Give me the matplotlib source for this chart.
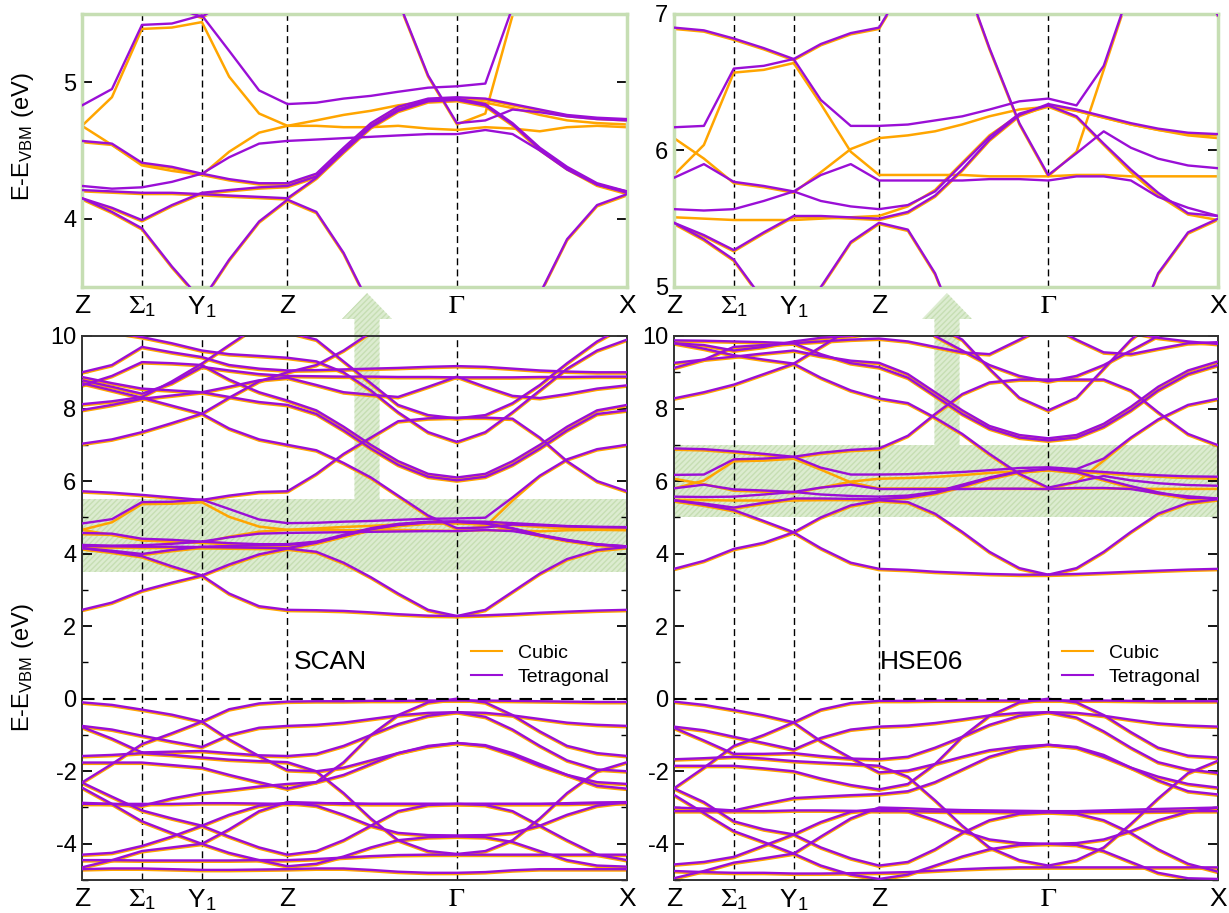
import matplotlib
matplotlib.use("Agg")
import matplotlib.pyplot as plt
from matplotlib.patches import FancyArrow
from matplotlib.ticker import MultipleLocator
from matplotlib.transforms import offset_copy

plt.rcParams['font.family'] = ['Liberation Sans', 'DejaVu Sans']
plt.rcParams['mathtext.fontset'] = 'stix'
plt.rcParams['axes.unicode_minus'] = False

# k-path nodes (Z - Sigma1 - Y1 - Z - Gamma - X)
kpath = [0.0, 0.055, 0.11, 0.165, 0.22, 0.27, 0.325, 0.377, 0.43, 0.48,
         0.53, 0.58, 0.635, 0.688, 0.74, 0.79, 0.84, 0.89, 0.945, 1.0]
kticks = [0.0, 0.11, 0.22, 0.377, 0.688, 1.0]
klabels = ['Z', r'$\Sigma_\mathregular{1}$', r'Y$_\mathregular{1}$', 'Z', r'$\Gamma$', 'X']

# ---------------- SCAN bands (eV) ----------------
sv_A = [-0.10, -0.17, -0.30, -0.44, -0.63, -1.12, -1.58, -1.97, -2.00, -1.90, -1.70, -1.50, -1.32, -1.22, -1.30, -1.55, -1.85, -2.10, -2.30, -2.35]
sv_B = [-2.31, -1.80, -1.25, -0.95, -0.63, -0.29, -0.13, -0.08, -0.07, -0.07, -0.06, -0.06, -0.05, -0.05, -0.05, -0.06, -0.07, -0.08, -0.09, -0.09]
sv_b = [-0.75, -0.85, -1.02, -1.18, -1.33, -1.00, -0.80, -0.75, -0.72, -0.66, -0.56, -0.46, -0.39, -0.37, -0.39, -0.46, -0.56, -0.66, -0.72, -0.75]
sv_c = [-0.78, -1.10, -1.48, -1.46, -1.44, -1.50, -1.56, -1.58, -1.52, -1.30, -1.00, -0.70, -0.47, -0.37, -0.50, -0.85, -1.30, -1.70, -1.95, -2.00]
sv_D = [-1.58, -1.55, -1.50, -1.55, -1.62, -1.68, -1.72, -1.75, -2.00, -2.60, -3.30, -3.90, -4.20, -4.28, -4.20, -3.90, -3.30, -2.60, -2.00, -1.75]
sv_C = [-1.76, -1.76, -1.76, -1.83, -1.90, -2.10, -2.30, -2.48, -2.30, -1.75, -1.00, -0.45, -0.10, 0.00, -0.10, -0.45, -0.90, -1.30, -1.50, -1.58]
sv_F = [-2.87, -2.90, -2.95, -2.75, -2.60, -2.52, -2.42, -2.35, -2.30, -2.10, -1.80, -1.50, -1.30, -1.22, -1.28, -1.50, -1.80, -2.10, -2.40, -2.48]
sv_bowl = [-4.30, -4.25, -4.06, -3.80, -3.50, -3.20, -2.95, -2.87, -2.95, -3.20, -3.50, -3.70, -3.76, -3.77, -3.76, -3.70, -3.50, -3.20, -2.95, -2.85]
sv_flat = [-2.90, -2.90, -2.90, -2.90, -2.88, -2.88, -2.89, -2.90, -2.88, -2.88, -2.90, -2.90, -2.90, -2.90, -2.90, -2.90, -2.90, -2.90, -2.88, -2.88]
sv_dome = [-2.31, -2.70, -3.08, -3.30, -3.50, -3.80, -4.10, -4.30, -4.20, -3.90, -3.50, -3.10, -2.93, -2.90, -2.93, -3.10, -3.50, -3.90, -4.30, -4.45]
sv_e = [-4.65, -4.45, -4.20, -4.10, -4.00, -3.60, -3.10, -2.85, -2.87, -2.90, -2.90, -2.90, -2.90, -2.90, -2.90, -2.90, -2.90, -2.88, -2.86, -2.85]
sv_g = [-4.45, -4.45, -4.46, -4.46, -4.46, -4.46, -4.45, -4.45, -4.42, -4.38, -4.34, -4.31, -4.30, -4.30, -4.30, -4.30, -4.30, -4.30, -4.30, -4.30]
sv_dome2 = [-2.45, -2.90, -3.38, -3.70, -4.00, -4.25, -4.45, -4.62, -4.55, -4.35, -4.10, -3.90, -3.82, -3.80, -3.82, -3.95, -4.20, -4.45, -4.60, -4.63]
sv_bot = [-4.70, -4.68, -4.68, -4.70, -4.72, -4.72, -4.71, -4.70, -4.68, -4.68, -4.72, -4.77, -4.80, -4.80, -4.78, -4.73, -4.70, -4.70, -4.70, -4.70]

sc_c0 = [4.15, 4.05, 3.93, 3.65, 3.40, 2.90, 2.55, 2.45, 2.44, 2.42, 2.38, 2.33, 2.29, 2.28, 2.30, 2.33, 2.37, 2.40, 2.43, 2.45]
sc_c1 = [2.45, 2.65, 2.98, 3.20, 3.40, 3.70, 3.98, 4.14, 4.05, 3.75, 3.35, 2.90, 2.45, 2.28, 2.45, 2.95, 3.45, 3.85, 4.10, 4.18]
sc_T1 = [4.83, 4.95, 5.42, 5.43, 5.49, 5.23, 4.94, 4.84, 4.85, 4.88, 4.90, 4.93, 4.96, 4.97, 4.99, 5.55, 6.15, 6.60, 6.88, 7.00]
sc_T2 = [4.57, 4.55, 4.41, 4.38, 4.33, 4.29, 4.26, 4.26, 4.33, 4.52, 4.70, 4.82, 4.88, 4.89, 4.88, 4.84, 4.80, 4.76, 4.74, 4.73]
sc_T3 = [4.24, 4.22, 4.23, 4.27, 4.33, 4.45, 4.55, 4.57, 4.58, 4.59, 4.60, 4.61, 4.62, 4.62, 4.65, 4.62, 4.50, 4.36, 4.25, 4.20]
sc_T4 = [4.15, 4.08, 3.99, 4.10, 4.19, 4.21, 4.23, 4.24, 4.31, 4.50, 4.68, 4.80, 4.87, 4.88, 4.84, 4.70, 4.52, 4.38, 4.26, 4.20]
sc_T5 = [4.21, 4.20, 4.19, 4.19, 4.18, 4.17, 4.16, 4.15, 4.30, 4.49, 4.67, 4.79, 4.86, 4.87, 4.83, 4.69, 4.51, 4.37, 4.25, 4.19]
sc_E = [8.70, 8.50, 8.30, 8.08, 7.86, 7.45, 7.15, 7.00, 6.85, 6.50, 6.10, 5.60, 5.05, 4.70, 4.72, 4.80, 4.78, 4.75, 4.73, 4.72]
sc_P = [5.72, 5.68, 5.62, 5.55, 5.48, 5.60, 5.70, 5.72, 6.20, 6.75, 7.20, 7.65, 7.73, 7.75, 7.75, 7.72, 7.20, 6.55, 6.00, 5.72]
sc_F = [7.03, 7.15, 7.35, 7.60, 7.86, 8.30, 8.75, 9.00, 9.20, 9.60, 10.1, 10.6, 11.0, 11.2, 11.0, 10.7, 10.4, 10.2, 10.1, 10.05]
sc_B4 = [7.96, 8.10, 8.27, 8.36, 8.45, 8.32, 8.18, 8.10, 7.85, 7.40, 6.90, 6.45, 6.12, 6.02, 6.12, 6.45, 6.90, 7.40, 7.85, 7.95]
sc_B3 = [8.64, 8.90, 9.28, 9.25, 9.20, 8.80, 8.45, 8.22, 7.95, 7.50, 7.00, 6.55, 6.20, 6.10, 6.20, 6.55, 7.00, 7.50, 7.95, 8.10]
sc_H = [8.87, 8.70, 8.55, 8.50, 8.45, 8.60, 8.78, 8.85, 8.65, 8.45, 8.38, 8.32, 8.60, 8.88, 8.60, 8.35, 8.29, 8.40, 8.55, 8.64]
sc_G = [8.78, 8.60, 8.41, 8.70, 9.15, 9.05, 8.95, 8.90, 8.89, 8.88, 8.88, 8.87, 8.87, 8.86, 8.86, 8.86, 8.87, 8.87, 8.88, 8.88]
sc_G2 = [9.00, 9.20, 9.70, 9.55, 9.42, 9.20, 9.10, 9.05, 9.06, 9.08, 9.10, 9.12, 9.15, 9.17, 9.15, 9.10, 9.05, 9.02, 9.00, 9.00]
sc_B2 = [10.2, 10.1, 9.97, 9.80, 9.60, 9.50, 9.45, 9.40, 9.30, 9.00, 8.50, 7.90, 7.35, 7.08, 7.35, 7.90, 8.50, 9.10, 9.60, 9.90]
sc_B1 = [10.6, 10.5, 10.4, 10.3, 10.25, 10.2, 10.15, 10.1, 9.90, 9.30, 8.70, 8.10, 7.82, 7.73, 7.82, 8.15, 8.65, 9.25, 9.85, 10.3]
sc_K1 = [8.12, 8.20, 8.32, 8.75, 9.24, 9.75, 10.3, 10.8, 11.0, 11.2, 11.4, 11.5, 11.6, 11.6, 11.6, 11.5, 11.4, 11.2, 11.0, 10.9]
# cubic bands that differ from the tetragonal ones
sc_O1 = [4.69, 4.90, 5.40, 5.41, 5.45, 5.05, 4.78, 4.69, 4.73, 4.77, 4.80, 4.84, 4.87, 4.88, 4.86, 4.82, 4.77, 4.73, 4.71, 4.70]
sc_O2 = [4.69, 4.55, 4.40, 4.36, 4.33, 4.50, 4.64, 4.69, 4.69, 4.68, 4.68, 4.69, 4.67, 4.66, 4.68, 4.67, 4.65, 4.68, 4.69, 4.68]
sc_O3 = [8.70, 8.50, 8.30, 8.08, 7.86, 7.45, 7.15, 7.00, 6.85, 6.50, 6.10, 5.60, 5.05, 4.70, 4.78, 5.50, 6.15, 6.60, 6.88, 7.00]

# ---------------- HSE06 bands (eV) ----------------
hv_A = [-0.08, -0.17, -0.31, -0.46, -0.65, -1.17, -1.63, -2.03, -1.98, -1.80, -1.60, -1.42, -1.32, -1.27, -1.35, -1.60, -1.90, -2.15, -2.35, -2.45]
hv_B = [-2.47, -1.90, -1.30, -1.00, -0.65, -0.30, -0.12, -0.06, -0.06, -0.05, -0.05, -0.05, -0.05, -0.05, -0.05, -0.05, -0.06, -0.07, -0.07, -0.07]
hv_b = [-0.77, -0.87, -1.05, -1.22, -1.40, -1.08, -0.85, -0.77, -0.74, -0.67, -0.57, -0.46, -0.39, -0.37, -0.39, -0.47, -0.58, -0.68, -0.74, -0.77]
hv_c = [-0.80, -1.15, -1.52, -1.52, -1.50, -1.58, -1.65, -1.67, -1.60, -1.35, -1.05, -0.72, -0.47, -0.37, -0.52, -0.90, -1.35, -1.75, -1.95, -2.05]
hv_D = [-1.67, -1.64, -1.60, -1.65, -1.72, -1.76, -1.80, -1.85, -2.15, -2.80, -3.50, -4.10, -4.45, -4.60, -4.45, -4.10, -3.45, -2.75, -2.05, -1.71]
hv_C = [-1.85, -1.85, -1.85, -1.92, -2.00, -2.20, -2.38, -2.50, -2.35, -1.80, -1.05, -0.47, -0.10, 0.00, -0.10, -0.45, -0.92, -1.35, -1.57, -1.62]
hv_F = [-3.00, -3.03, -3.08, -2.90, -2.74, -2.70, -2.66, -2.63, -2.55, -2.30, -1.95, -1.60, -1.37, -1.27, -1.33, -1.55, -1.90, -2.25, -2.55, -2.64]
hv_bowl = [-4.57, -4.50, -4.36, -4.05, -3.74, -3.40, -3.12, -3.03, -3.10, -3.35, -3.65, -3.88, -3.98, -4.00, -3.98, -3.88, -3.65, -3.35, -3.12, -3.00]
hv_flat = [-3.10, -3.10, -3.10, -3.10, -3.08, -3.08, -3.09, -3.10, -3.10, -3.11, -3.12, -3.12, -3.13, -3.13, -3.13, -3.12, -3.12, -3.11, -3.10, -3.10]
hv_dome = [-2.47, -2.85, -3.38, -3.60, -3.74, -4.10, -4.40, -4.60, -4.50, -4.15, -3.70, -3.35, -3.17, -3.13, -3.17, -3.35, -3.70, -4.15, -4.55, -4.77]
hv_e = [-4.95, -4.75, -4.52, -4.40, -4.27, -3.80, -3.30, -3.00, -3.02, -3.05, -3.07, -3.08, -3.09, -3.10, -3.10, -3.08, -3.06, -3.04, -3.02, -3.00]
hv_g = [-4.75, -4.78, -4.80, -4.80, -4.82, -4.82, -4.81, -4.80, -4.78, -4.74, -4.70, -4.67, -4.65, -4.65, -4.65, -4.65, -4.65, -4.65, -4.65, -4.65]
hv_dome2 = [-2.65, -3.15, -3.65, -3.95, -4.27, -4.60, -4.85, -4.97, -4.85, -4.60, -4.35, -4.15, -4.03, -4.00, -4.03, -4.20, -4.50, -4.80, -4.95, -4.97]

hc_c0 = [5.47, 5.35, 5.20, 4.90, 4.59, 4.15, 3.75, 3.58, 3.55, 3.50, 3.47, 3.44, 3.42, 3.42, 3.44, 3.47, 3.50, 3.53, 3.56, 3.58]
hc_c1 = [3.58, 3.80, 4.13, 4.30, 4.59, 5.00, 5.33, 5.47, 5.42, 5.10, 4.60, 4.05, 3.60, 3.42, 3.60, 4.05, 4.60, 5.10, 5.40, 5.50]
hc_V = [5.47, 5.38, 5.27, 5.40, 5.52, 5.52, 5.51, 5.50, 5.55, 5.67, 5.86, 6.08, 6.26, 6.34, 6.30, 6.25, 6.20, 6.16, 6.13, 6.12]
hc_U3 = [5.80, 5.90, 5.77, 5.74, 5.70, 5.63, 5.59, 5.57, 5.60, 5.70, 5.90, 6.10, 6.27, 6.33, 6.25, 6.05, 5.86, 5.69, 5.54, 5.52]
hc_HP1 = [5.57, 5.56, 5.57, 5.63, 5.70, 5.82, 5.90, 5.78, 5.78, 5.78, 5.78, 5.79, 5.79, 5.78, 5.81, 5.81, 5.78, 5.66, 5.58, 5.52]
hc_U1 = [6.90, 6.88, 6.82, 6.75, 6.67, 6.37, 6.18, 6.18, 6.19, 6.22, 6.25, 6.30, 6.36, 6.38, 6.33, 6.62, 7.20, 7.70, 8.10, 8.27]
hc_P = [6.17, 6.18, 6.60, 6.62, 6.67, 6.78, 6.86, 6.90, 7.25, 7.85, 8.40, 8.72, 8.80, 8.80, 8.80, 8.80, 8.50, 7.90, 7.30, 6.99]
hc_E = [9.80, 9.65, 9.47, 9.35, 9.24, 8.85, 8.50, 8.28, 8.15, 7.75, 7.30, 6.75, 6.20, 5.82, 5.98, 6.14, 6.02, 5.94, 5.89, 5.87]
hc_K = [8.28, 8.45, 8.66, 8.95, 9.24, 9.70, 10.2, 10.6, 10.8, 11.0, 11.2, 11.3, 11.4, 11.4, 11.4, 11.3, 11.2, 11.0, 10.8, 10.6]
hc_B78 = [10.7, 10.7, 10.6, 10.6, 10.6, 10.6, 10.7, 10.7, 10.5, 10.3, 9.90, 9.10, 8.30, 7.95, 8.30, 9.10, 9.90, 10.5, 10.9, 11.2]
hc_B875 = [11.0, 11.0, 11.0, 11.0, 11.0, 11.0, 11.0, 11.0, 10.6, 10.0, 9.60, 9.20, 8.90, 8.75, 8.90, 9.20, 9.60, 10.0, 10.5, 10.9]
hc_B71 = [9.12, 9.35, 9.70, 9.75, 9.80, 9.50, 9.25, 9.14, 8.85, 8.35, 7.85, 7.45, 7.20, 7.12, 7.20, 7.50, 7.95, 8.50, 8.95, 9.20]
hc_B72 = [9.26, 9.35, 9.43, 9.52, 9.60, 9.45, 9.32, 9.26, 8.95, 8.45, 7.95, 7.52, 7.27, 7.18, 7.27, 7.58, 8.05, 8.60, 9.05, 9.30]
hc_G = [9.88, 9.87, 9.85, 9.83, 9.80, 9.85, 9.90, 9.93, 9.85, 9.70, 9.55, 9.50, 9.90, 10.3, 9.90, 9.55, 9.50, 9.65, 9.80, 9.83]
hc_G2 = [9.80, 9.75, 9.60, 9.70, 9.85, 9.95, 10.0, 10.1, 10.2, 10.3, 10.4, 10.4, 10.5, 10.5, 10.4, 10.3, 10.1, 9.95, 9.85, 9.78]
# cubic bands that differ from the tetragonal ones
hc_cP = [6.90, 6.88, 6.82, 6.75, 6.67, 6.78, 6.86, 6.90, 7.25, 7.85, 8.40, 8.72, 8.80, 8.80, 8.80, 8.80, 8.50, 7.90, 7.30, 6.99]
hc_cO1 = [5.83, 6.05, 6.58, 6.60, 6.65, 6.35, 6.00, 5.83, 5.83, 5.83, 5.83, 5.82, 5.82, 5.82, 5.83, 5.83, 5.82, 5.82, 5.82, 5.82]
hc_cO2 = [6.10, 5.95, 5.77, 5.74, 5.70, 5.85, 6.02, 6.10, 6.12, 6.15, 6.20, 6.26, 6.31, 6.33, 6.30, 6.25, 6.20, 6.16, 6.12, 6.10]
hc_cD = [5.52, 5.51, 5.50, 5.50, 5.50, 5.51, 5.52, 5.53, 5.60, 5.72, 5.92, 6.12, 6.27, 6.33, 6.25, 6.05, 5.85, 5.68, 5.54, 5.50]
hc_cE = [9.80, 9.65, 9.47, 9.35, 9.24, 8.85, 8.50, 8.28, 8.15, 7.75, 7.30, 6.75, 6.20, 5.82, 6.00, 6.60, 7.20, 7.70, 8.10, 8.27]

scan_val = [sv_A, sv_B, sv_b, sv_c, sv_D, sv_C, sv_F, sv_bowl, sv_flat, sv_dome, sv_e, sv_g, sv_dome2, sv_bot]
scan_common = [sc_c0, sc_c1, sc_T2, sc_T4, sc_T5, sc_P, sc_F, sc_B4, sc_B3, sc_H, sc_G, sc_G2, sc_B2, sc_B1, sc_K1]
scan_tet = scan_val + scan_common + [sc_T1, sc_T3, sc_E]
scan_cub = scan_val + scan_common + [sc_O1, sc_O2, sc_O3]

hse_val = [hv_A, hv_B, hv_b, hv_c, hv_D, hv_C, hv_F, hv_bowl, hv_flat, hv_dome, hv_e, hv_g, hv_dome2]
hse_common = [hc_c0, hc_c1, hc_V, hc_K, hc_B78, hc_B875, hc_B71, hc_B72, hc_G, hc_G2]
hse_tet = hse_val + hse_common + [hc_U3, hc_HP1, hc_U1, hc_P, hc_E]
hse_cub = hse_val + hse_common + [hc_cP, hc_cO1, hc_cO2, hc_cD, hc_cE]

ORANGE = '#ffa500'
PURPLE = '#9a0fd6'
GREEN = '#c6deb3'
LIGHT = '#dcecd0'

fig = plt.figure(figsize=(12.29, 9.13), dpi=100)
ax_bl = fig.add_axes([0.0667, 0.0361, 0.4435, 0.5959], facecolor='none')
ax_br = fig.add_axes([0.5484, 0.0361, 0.4426, 0.5959], facecolor='none')
ax_tl = fig.add_axes([0.0667, 0.6857, 0.4435, 0.299])
ax_tr = fig.add_axes([0.5484, 0.6857, 0.4426, 0.299])


def draw_bands(ax, tet, cub):
    # cubic drawn slightly below, so it shows as an orange edge under the purple
    shifted = offset_copy(ax.transData, fig=fig, x=0.0, y=-1.3, units='dots')
    for band in cub:
        ax.plot(kpath, band, color=ORANGE, lw=1.8, zorder=2, transform=shifted,
                solid_joinstyle='round')
    for band in tet:
        ax.plot(kpath, band, color=PURPLE, lw=1.7, zorder=3, solid_joinstyle='round')
    for k in kticks[1:-1]:
        ax.axvline(k, color='k', lw=1.0, ls=(0, (5, 3)), zorder=1)
    ax.set_xlim(0, 1)
    ax.set_xticks(kticks)
    ax.set_xticklabels(klabels, fontsize=19)
    ax.tick_params(axis='x', length=0, pad=5)
    ax.tick_params(axis='y', which='both', direction='in', left=True, right=True,
                   labelsize=17, pad=4)
    ax.tick_params(axis='y', which='major', length=7, width=1.3)
    ax.tick_params(axis='y', which='minor', length=4, width=1.0)


# bottom panels
for ax, tet, cub, win, name in [(ax_bl, scan_tet, scan_cub, (3.5, 5.5), 'SCAN'),
                                (ax_br, hse_tet, hse_cub, (5.0, 7.0), 'HSE06')]:
    draw_bands(ax, tet, cub)
    ax.axhspan(win[0], win[1], facecolor=LIGHT, edgecolor=GREEN, hatch='//////',
               lw=0, zorder=0)
    ax.axhline(0, color='k', lw=1.5, ls=(0, (6, 4)), zorder=4)
    ax.set_ylim(-5, 10)
    ax.yaxis.set_major_locator(MultipleLocator(2))
    ax.yaxis.set_minor_locator(MultipleLocator(1))
    for s in ax.spines.values():
        s.set_color('#333333')
        s.set_linewidth(1.4)
    ax.text(0.455, 0.40, name, transform=ax.transAxes, fontsize=19,
            ha='center', va='center')
    ax.plot([], [], color=ORANGE, lw=1.5, label='Cubic')
    ax.plot([], [], color=PURPLE, lw=1.5, label='Tetragonal')
    ax.legend(loc='upper right', bbox_to_anchor=(1.0, 0.465), frameon=False,
              fontsize=14, handlelength=1.6, labelspacing=0.3)

# top zoom panels
for ax, tet, cub, win, ticks in [(ax_tl, scan_tet, scan_cub, (3.5, 5.5), [4, 5]),
                                 (ax_tr, hse_tet, hse_cub, (5.0, 7.0), [5, 6, 7])]:
    draw_bands(ax, tet, cub)
    ax.set_ylim(*win)
    ax.set_yticks(ticks)
    for s in ax.spines.values():
        s.set_color(GREEN)
        s.set_linewidth(2.5)

ax_bl.set_ylabel(r'E-E$_\mathregular{VBM}$ (eV)', fontsize=17)
ax_bl.yaxis.set_label_coords(-0.085, 0.39)
ax_tl.set_ylabel(r'E-E$_\mathregular{VBM}$ (eV)', fontsize=17)
ax_tl.yaxis.set_label_coords(-0.085, 0.55)

# green arrows from the shaded windows up to the zoomed panels
for xc, ytail in [(367 / 1229, 1 - 499 / 913), (947 / 1229, 1 - 445 / 913)]:
    ytip = 1 - 293 / 913
    arr = FancyArrow(xc, ytail, 0, ytip - ytail, width=25 / 1229,
                     head_width=50 / 1229, head_length=26 / 913,
                     length_includes_head=True, transform=fig.transFigure,
                     facecolor=LIGHT, edgecolor=GREEN, hatch='//////', lw=0,
                     zorder=-1)
    fig.add_artist(arr)

fig.savefig('out.png', dpi=100)
